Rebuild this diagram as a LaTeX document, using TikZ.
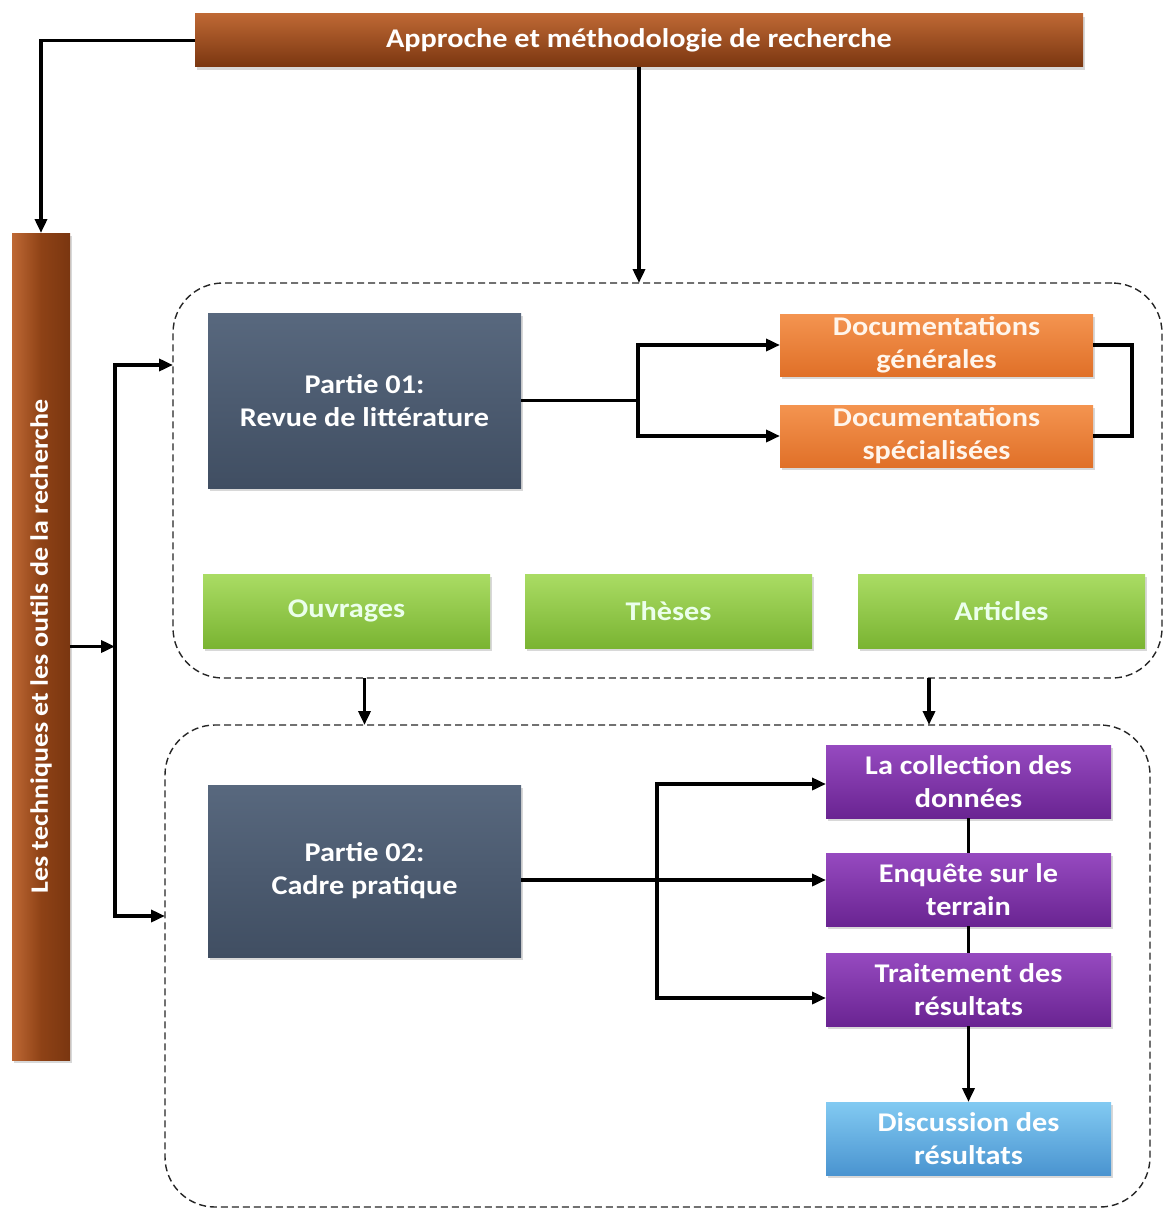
\documentclass[tikz,border=0pt]{standalone}
\usepackage{fontspec}
\setmainfont{Carlito}[FakeStretch=1.12]
\usepackage{tikz}
\usetikzlibrary{arrows.meta, positioning, shadows}
\definecolor{brunhaut}{RGB}{190,104,52}
\definecolor{brunmil}{RGB}{142,66,22}
\definecolor{brunbas}{RGB}{122,54,16}
\definecolor{ardhaut}{RGB}{88,104,126}
\definecolor{ardmil}{RGB}{70,85,106}
\definecolor{ardbas}{RGB}{64,78,98}
\definecolor{orhaut}{RGB}{244,148,80}
\definecolor{ormil}{RGB}{236,126,50}
\definecolor{orbas}{RGB}{224,112,40}
\definecolor{verthaut}{RGB}{170,220,100}
\definecolor{vertmil}{RGB}{145,200,70}
\definecolor{vertbas}{RGB}{122,180,50}
\definecolor{violhaut}{RGB}{150,74,192}
\definecolor{violmil}{RGB}{122,46,162}
\definecolor{violbas}{RGB}{106,36,146}
\definecolor{bleuhaut}{RGB}{130,202,242}
\definecolor{bleumil}{RGB}{92,166,222}
\definecolor{bleubas}{RGB}{74,148,208}

\begin{document}
\begin{tikzpicture}[x=1pt, y=-1pt, >={Triangle[length=14pt,width=12pt]},
      every node/.style={font=\fontsize{27}{33}\selectfont\bfseries, text=white,
                         align=center, inner sep=0pt, outer sep=0pt},
      boite/.style={rectangle, drop shadow={shadow xshift=2pt, shadow yshift=-3pt,
                    opacity=0.3}},
      brun/.style={boite, top color=brunhaut, middle color=brunmil, bottom color=brunbas},
      ardoise/.style={boite, top color=ardhaut, middle color=ardmil, bottom color=ardbas,
                      minimum width=313pt},
      orange/.style={boite, top color=orhaut, middle color=ormil, bottom color=orbas,
                     minimum width=313pt, minimum height=62pt, text=white!92!orange},
      vert/.style={boite, top color=verthaut, middle color=vertmil, bottom color=vertbas,
                   minimum width=287pt, minimum height=74pt, text=white!92!green},
      violet/.style={boite, top color=violhaut, middle color=violmil, bottom color=violbas,
                     minimum width=285pt, minimum height=73pt},
      bleu/.style={boite, top color=bleuhaut, middle color=bleumil, bottom color=bleubas,
                   minimum width=285pt, minimum height=73pt},
      cadre/.style={draw=black!85, line width=1.4pt, dash pattern=on 7pt off 4pt,
                    rounded corners=50pt},
      fleche/.style={line width=3.6pt}]

    \fill[white] (0,0) rectangle (1165,1209);
    \useasboundingbox (0,0) rectangle (1165,1209);

    \node[cadre, minimum width=989pt, minimum height=395pt] (C1) at (667.5,480.5) {};
    \node[cadre, minimum width=985pt, minimum height=482pt] (C2) at (657.5,966) {};

    \node[brun, minimum width=888pt, minimum height=53pt] (top) at (639,40.5)
         {Approche et méthodologie de recherche};
    \node[boite, left color=brunhaut, right color=brunbas, middle color=brunmil,
          minimum width=58pt, minimum height=827pt] (left) at (41,646.5)
         {\rotatebox{90}{\fontsize{25}{30}\selectfont Les techniques et les outils de la recherche}};

    \node[ardoise, minimum height=175pt] (P1) at (364.5,400.5) {Partie 01:\\Revue de littérature};
    \node[orange] (DG) at (936.5,345) {Documentations\\générales};
    \node[orange, below=29pt of DG] (DS) {Documentations\\spécialisées};

    \node[vert] (OU) at (346.5,611) {Ouvrages};
    \node[vert, right=35pt of OU] (TH) {Thèses};
    \node[vert, right=46pt of TH] (AR) {Articles};

    \node[ardoise, minimum height=172pt] (P2) at (364.5,871) {Partie 02:\\Cadre pratique};
    \node[violet] (CL) at (968.5,781.5) {La collection des\\données};
    \node[violet, below=35pt of CL] (EN) {Enquête sur le\\terrain};
    \node[violet, below=27pt of EN] (TR) {Traitement des\\résultats};
    \node[bleu, below=76pt of TR] (DI) {Discussion des\\résultats};

    \coordinate (fourche) at (115,646.5);
    \coordinate (embr) at (657,880);

    \draw[fleche,->] (top.west) -| (left.north);
    \draw[fleche,->] (top.south) -- (top.south |- C1.north);
    \draw[fleche,->] (left.east) -- (fourche);
    \draw[fleche,->] (fourche) |- (C1.west |- 0,365);
    \draw[fleche,->] (fourche) |- (C2.west |- 0,916);

    \draw[fleche,->] (P1.east) -- ++(117,0) |- (DG.west);
    \draw[fleche,->] (P1.east) -- ++(117,0) |- (DS.west);
    \draw[fleche] (DG.east) -- ++(39,0) |- (DS.east);

    \draw[fleche,->] (C1.south -| P1.south) -- (C2.north -| P1.south);
    \draw[fleche,->] (C1.south -| 929,0) -- (C2.north -| 929,0);

    \draw[fleche,->] (P2.east |- embr) -- (EN.west |- embr);
    \draw[fleche,->] (embr) |- ([yshift=-2.5pt]CL.west);
    \draw[fleche,->] (embr) |- ([yshift=-8.5pt]TR.west);
    \draw[fleche] (CL.south) -- (EN.north);
    \draw[fleche] (EN.south) -- (TR.north);
    \draw[fleche,->] (TR.south) -- (DI.north);
  \end{tikzpicture}
\end{document}
